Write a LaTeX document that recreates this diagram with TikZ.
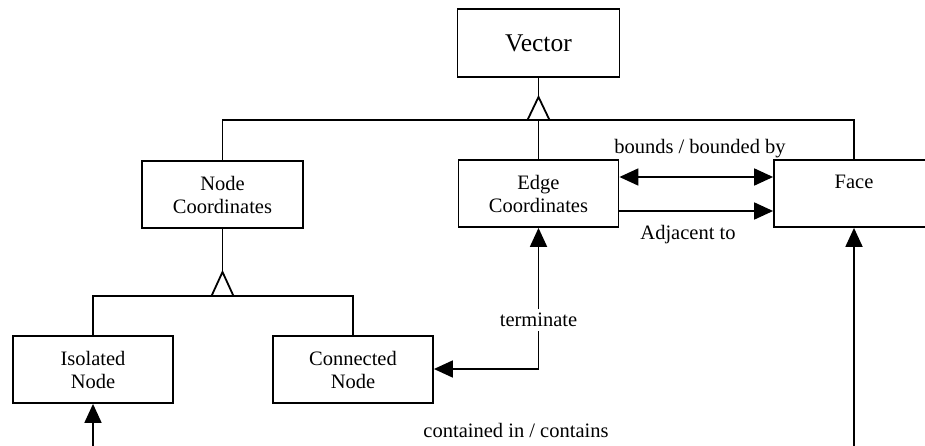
\documentclass[tikz,border=0pt]{standalone}
\usepackage{fontspec}
\setmainfont{Liberation Serif}
\usetikzlibrary{arrows.meta}
\begin{document}
\begin{tikzpicture}[x=1pt,y=-1pt,
  box/.style={draw,line width=1.8pt,minimum width=160pt,minimum height=67pt,align=center,inner sep=0pt,font=\fontsize{20.5}{23}\selectfont},
  conn/.style={line width=1.8pt},
  arr/.style={conn,-{Triangle[length=19pt,width=17pt]}},
  darr/.style={conn,{Triangle[length=19pt,width=17pt]}-{Triangle[length=19pt,width=17pt]}},
  lbl/.style={font=\fontsize{20.5}{23}\selectfont,inner sep=1pt},
  gen/.style={line width=1.8pt,fill=white}]
\useasboundingbox (0,0) rectangle (925,446);
\clip (0,0) rectangle (925,446);
% nodes
\node[box,minimum width=162pt,minimum height=68pt,font=\fontsize{25.5}{28}\selectfont] (vec) at (538.5,43) {Vector};
\node[box,minimum width=161pt] (nc) at (222.5,194.5) {Node\\Coordinates};
\node[box] (ec) at (538.5,193.5) {Edge\\Coordinates};
\node[box] (face) at (854,193.5) {Face\\\mbox{}};
\node[box] (iso) at (93,369.5) {Isolated\\Node};
\node[box] (con) at (353,369.5) {Connected\\Node};
% generalization Vector
\coordinate (va) at (538.5,97);
\coordinate (vb) at (538.5,120);
\draw[conn] (vec.south) -- (va);
\draw[conn] (nc.north) |- (vb) -| (face.north);
\draw[conn] (vb) -- (ec.north);
\draw[gen] (va) -- ++(-11,23) -- ++(22,0) -- cycle;
% generalization Node Coordinates
\coordinate (na) at (222.5,272);
\coordinate (nb) at (222.5,296);
\draw[conn] (nc.south) -- (na);
\draw[conn] (iso.north) |- (nb) -| (con.north);
\draw[gen] (na) -- ++(-11,24) -- ++(22,0) -- cycle;
% associations
\draw[darr] (ec.east |- 0,177) -- (face.west |- 0,177);
\node[lbl] (lb1) at (700,149) {bounds / bounded by};
\draw[arr] (ec.east |- 0,211) -- (face.west |- 0,211);
\node[lbl] (lb2) at (688,235) {Adjacent to};
\coordinate (tc) at (538.5,369);
\draw[darr] (con.east |- tc) -- (tc) -- (ec.south);
\node[lbl,fill=white,inner sep=4pt] (lb3) at (538.5,320) {terminate};
\coordinate (fb) at (854,446);
\draw[arr] (fb) -- (face.south);
\coordinate (ib) at (93,446);
\draw[arr] (ib) -- (iso.south);
\node[lbl] (lb4) at (516,430) {contained in / contains};
\end{tikzpicture}
\end{document}
